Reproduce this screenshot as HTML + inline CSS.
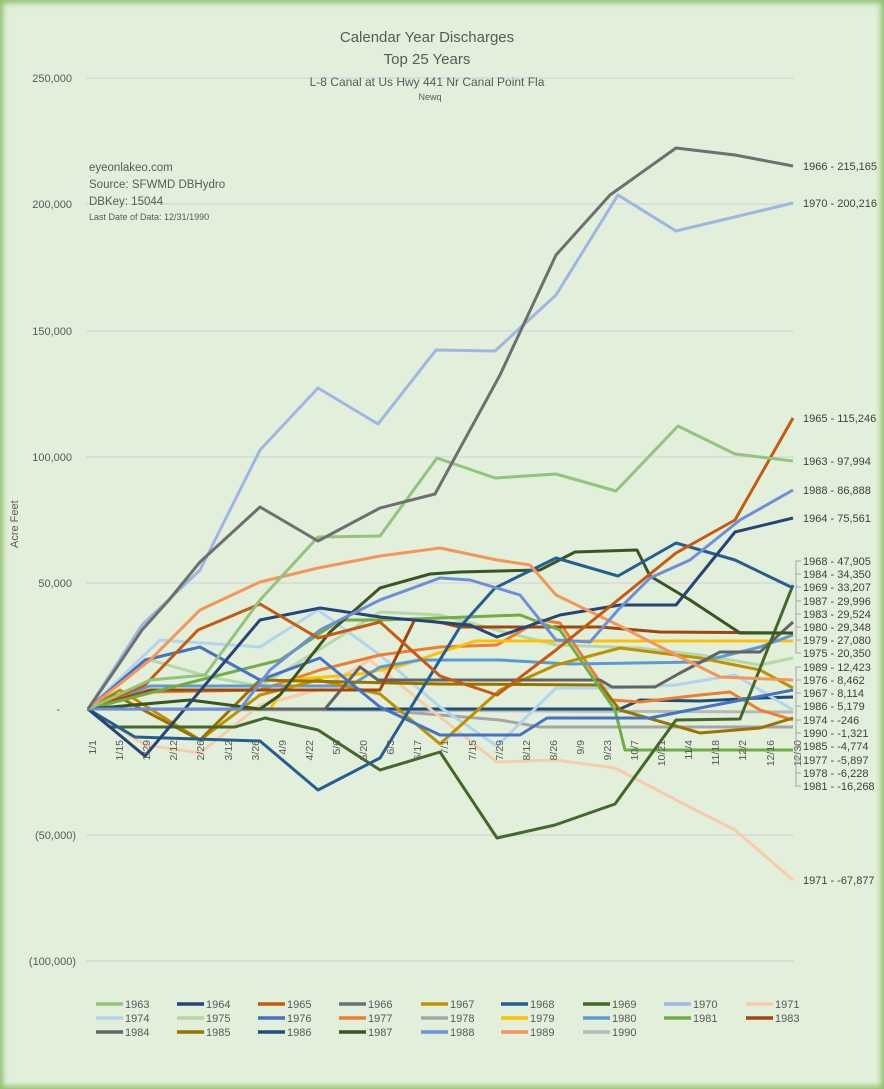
<!DOCTYPE html>
<html><head><meta charset="utf-8"><style>
html,body{margin:0;padding:0;}
body{width:884px;height:1089px;overflow:hidden;background:#e2efda;}
.wrap{position:absolute;left:0;top:0;width:884px;height:1089px;box-shadow:inset 0 0 6px 3px #8fbf6f;background:#e2efda;}
svg{position:absolute;left:0;top:0;font-family:"Liberation Sans",sans-serif;}
</style></head><body><div class="wrap">
<svg width="884" height="1089" viewBox="0 0 884 1089">
<g stroke="#d9d9d9" stroke-width="1.5">
<line x1="86" y1="78" x2="794" y2="78"/><line x1="86" y1="204" x2="794" y2="204"/><line x1="86" y1="331" x2="794" y2="331"/><line x1="86" y1="457" x2="794" y2="457"/><line x1="86" y1="583" x2="794" y2="583"/><line x1="86" y1="835" x2="794" y2="835"/><line x1="86" y1="961" x2="794" y2="961"/>
</g>
<g font-size="11" fill="#595959" text-anchor="end">
<text x="72" y="82">250,000</text><text x="72" y="208">200,000</text><text x="72" y="335">150,000</text><text x="72" y="461">100,000</text><text x="72" y="587">50,000</text><text x="60" y="713">-</text><text x="76" y="839">(50,000)</text><text x="76" y="965">(100,000)</text>
</g>
<text transform="translate(18,548) rotate(-90)" font-size="11" fill="#595959">Acre Feet</text>
<g text-anchor="middle" fill="#595959">
<text x="427" y="42" font-size="15">Calendar Year Discharges</text>
<text x="427" y="64" font-size="15">Top 25 Years</text>
<text x="427" y="86" font-size="12">L-8 Canal at Us Hwy 441 Nr Canal Point Fla</text>
<text x="430" y="100" font-size="9">Newq</text>
</g>
<g fill="#595959" font-size="11.5">
<text x="89" y="171">eyeonlakeo.com</text><text x="89" y="188">Source: SFWMD DBHydro</text><text x="89" y="205">DBKey: 15044</text><text x="89" y="220" font-size="9">Last Date of Data: 12/31/1990</text>
</g>
<g fill="none" stroke-width="3" stroke-linejoin="round">
<polyline stroke="#a5a5a5" points="88,709 380,710 440,715 500,720 540,727 793,727"/>
<polyline stroke="#b7b7b7" points="88,709 793,712"/>
<polyline stroke="#1f4e79" points="88,709 620,709 640,700 700,701 760,698 793,697"/>
<polyline stroke="#b6d7a8" points="88,709 150,660 210,677 260,686 380,612 440,615 497,630 556,645 640,648 700,655 760,665 793,658"/>
<polyline stroke="#b4d4ee" points="88,709 160,640 260,647 318,610 380,655 440,707 497,746 556,688 616,688 676,685 735,675 793,710"/>
<polyline stroke="#f8cbad" points="88,709 145,745 200,753 260,705 318,690 370,660 440,717 497,762 556,760 615,768 676,800 735,830 793,880"/>
<polyline stroke="#ed7d31" points="88,709 150,692 260,690 320,670 380,655 440,647 497,645 540,620 560,623 612,700 640,702 700,695 730,692 760,710 793,720"/>
<polyline stroke="#ffc000" points="88,709 270,709 290,680 360,674 400,666 475,641 793,641"/>
<polyline stroke="#5b9bd5" points="88,709 150,686 350,686 380,667 420,660 500,660 570,664 700,662 760,647 793,635"/>
<polyline stroke="#bf9000" points="88,709 120,690 200,740 260,695 318,680 380,694 440,744 500,690 556,665 620,648 700,658 760,670 793,688"/>
<polyline stroke="#997300" points="88,709 115,695 200,740 260,680 440,684 600,685 620,710 690,730 700,733 760,728 793,718"/>
<polyline stroke="#636363" points="88,709 325,709 360,667 378,680 600,680 612,687 655,687 680,673 720,652 760,652 793,622"/>
<polyline stroke="#9e480e" points="88,709 150,690 380,690 415,619 443,623 460,627 600,627 660,632 793,633"/>
<polyline stroke="#70ad47" points="88,709 200,680 280,660 340,620 380,620 440,618 520,615 560,630 615,710 625,750 793,750"/>
<polyline stroke="#4472c4" points="88,709 145,660 200,647 260,680 320,658 380,707 440,735 520,735 547,718 650,718 700,708 793,690"/>
<polyline stroke="#43682b" points="88,709 110,727 235,727 265,718 318,730 380,770 440,752 497,838 555,825 615,804 676,720 740,719 793,585"/>
<polyline stroke="#375623" points="88,709 190,700 260,709 280,695 330,632 380,588 430,574 460,572 540,570 575,552 637,550 650,576 690,600 740,633 793,633"/>
<polyline stroke="#255e91" points="88,709 135,737 260,741 318,790 380,758 460,627 495,588 556,558 618,576 676,543 735,560 793,588"/>
<polyline stroke="#264478" points="88,709 145,756 260,620 320,608 380,617 470,625 497,637 560,615 620,605 676,605 735,532 793,518"/>
<polyline stroke="#f4955a" points="88,709 150,660 200,610 260,582 318,568 380,556 440,548 497,560 530,565 556,595 618,625 676,655 720,677 793,680"/>
<polyline stroke="#6d8fd9" points="88,709 240,709 270,670 320,630 380,600 440,578 470,580 520,595 556,640 590,642 618,610 650,578 690,560 740,520 793,490"/>
<polyline stroke="#c55a11" points="88,709 145,685 198,630 260,604 318,638 380,622 440,676 497,695 556,650 618,600 676,553 735,520 793,418"/>
<polyline stroke="#93c47d" points="88,709 150,680 205,675 260,600 318,537 380,536 437,458 495,478 556,474 616,491 678,426 735,454 793,461"/>
<polyline stroke="#9eb6e4" points="88,709 142,625 200,570 260,450 318,388 378,424 436,350 495,351 556,295 618,195 676,231 793,203"/>
<polyline stroke="#6f6f6f" points="88,709 115,670 142,630 169,600 200,562 260,507 318,541 380,508 435,494 500,375 556,255 610,195 676,148 735,155 793,166"/>
</g>
<g font-size="10.5" fill="#595959">
<text transform="translate(96,740) rotate(-90)" text-anchor="end">1/1</text>
<text transform="translate(123,740) rotate(-90)" text-anchor="end">1/15</text>
<text transform="translate(150,740) rotate(-90)" text-anchor="end">1/29</text>
<text transform="translate(177,740) rotate(-90)" text-anchor="end">2/12</text>
<text transform="translate(204,740) rotate(-90)" text-anchor="end">2/26</text>
<text transform="translate(232,740) rotate(-90)" text-anchor="end">3/12</text>
<text transform="translate(259,740) rotate(-90)" text-anchor="end">3/26</text>
<text transform="translate(286,740) rotate(-90)" text-anchor="end">4/9</text>
<text transform="translate(313,740) rotate(-90)" text-anchor="end">4/22</text>
<text transform="translate(340,740) rotate(-90)" text-anchor="end">5/6</text>
<text transform="translate(367,740) rotate(-90)" text-anchor="end">5/20</text>
<text transform="translate(394,740) rotate(-90)" text-anchor="end">6/3</text>
<text transform="translate(421,740) rotate(-90)" text-anchor="end">6/17</text>
<text transform="translate(448,740) rotate(-90)" text-anchor="end">7/1</text>
<text transform="translate(476,740) rotate(-90)" text-anchor="end">7/15</text>
<text transform="translate(503,740) rotate(-90)" text-anchor="end">7/29</text>
<text transform="translate(530,740) rotate(-90)" text-anchor="end">8/12</text>
<text transform="translate(557,740) rotate(-90)" text-anchor="end">8/26</text>
<text transform="translate(584,740) rotate(-90)" text-anchor="end">9/9</text>
<text transform="translate(611,740) rotate(-90)" text-anchor="end">9/23</text>
<text transform="translate(638,740) rotate(-90)" text-anchor="end">10/7</text>
<text transform="translate(665,740) rotate(-90)" text-anchor="end">10/21</text>
<text transform="translate(692,740) rotate(-90)" text-anchor="end">11/4</text>
<text transform="translate(719,740) rotate(-90)" text-anchor="end">11/18</text>
<text transform="translate(746,740) rotate(-90)" text-anchor="end">12/2</text>
<text transform="translate(774,740) rotate(-90)" text-anchor="end">12/16</text>
<text transform="translate(801,740) rotate(-90)" text-anchor="end">12/30</text>
</g>
<g stroke="#a5a5a5" stroke-width="1" fill="none">
<polyline points="801,561 796,561 796,653 801,653"/>
<polyline points="801,667 796,667 796,786 801,786"/>
<line x1="796" y1="574" x2="801" y2="574"/><line x1="796" y1="587" x2="801" y2="587"/><line x1="796" y1="601" x2="801" y2="601"/><line x1="796" y1="614" x2="801" y2="614"/><line x1="796" y1="627" x2="801" y2="627"/><line x1="796" y1="640" x2="801" y2="640"/>
<line x1="796" y1="680" x2="801" y2="680"/><line x1="796" y1="693" x2="801" y2="693"/><line x1="796" y1="706" x2="801" y2="706"/><line x1="796" y1="720" x2="801" y2="720"/><line x1="796" y1="733" x2="801" y2="733"/><line x1="796" y1="746" x2="801" y2="746"/><line x1="796" y1="760" x2="801" y2="760"/><line x1="796" y1="773" x2="801" y2="773"/>
</g>
<g font-size="11" fill="#404040">
<text x="803" y="170">1966 - 215,165</text><text x="803" y="207">1970 - 200,216</text><text x="803" y="422">1965 - 115,246</text><text x="803" y="465">1963 - 97,994</text><text x="803" y="494">1988 - 86,888</text><text x="803" y="522">1964 - 75,561</text><text x="803" y="884">1971 - -67,877</text>
<text x="803" y="565">1968 - 47,905</text><text x="803" y="578">1984 - 34,350</text><text x="803" y="591">1969 - 33,207</text><text x="803" y="605">1987 - 29,996</text><text x="803" y="618">1983 - 29,524</text><text x="803" y="631">1980 - 29,348</text><text x="803" y="644">1979 - 27,080</text><text x="803" y="657">1975 - 20,350</text><text x="803" y="671">1989 - 12,423</text><text x="803" y="684">1976 - 8,462</text><text x="803" y="697">1967 - 8,114</text><text x="803" y="710">1986 - 5,179</text><text x="803" y="724">1974 - -246</text><text x="803" y="737">1990 - -1,321</text><text x="803" y="750">1985 - -4,774</text><text x="803" y="764">1977 - -5,897</text><text x="803" y="777">1978 - -6,228</text><text x="803" y="790">1981 - -16,268</text>
</g>
<g stroke-width="3.5">
<line x1="96" y1="1004" x2="123" y2="1004" stroke="#93c47d"/><line x1="177" y1="1004" x2="204" y2="1004" stroke="#264478"/><line x1="258" y1="1004" x2="285" y2="1004" stroke="#c55a11"/><line x1="339" y1="1004" x2="366" y2="1004" stroke="#6f6f6f"/><line x1="421" y1="1004" x2="448" y2="1004" stroke="#bf9000"/><line x1="501" y1="1004" x2="528" y2="1004" stroke="#255e91"/><line x1="583" y1="1004" x2="610" y2="1004" stroke="#43682b"/><line x1="664" y1="1004" x2="691" y2="1004" stroke="#9eb6e4"/><line x1="746" y1="1004" x2="773" y2="1004" stroke="#f8cbad"/>
<line x1="96" y1="1018" x2="123" y2="1018" stroke="#b4d4ee"/><line x1="177" y1="1018" x2="204" y2="1018" stroke="#b6d7a8"/><line x1="258" y1="1018" x2="285" y2="1018" stroke="#4472c4"/><line x1="339" y1="1018" x2="366" y2="1018" stroke="#ed7d31"/><line x1="421" y1="1018" x2="448" y2="1018" stroke="#a5a5a5"/><line x1="501" y1="1018" x2="528" y2="1018" stroke="#ffc000"/><line x1="583" y1="1018" x2="610" y2="1018" stroke="#5b9bd5"/><line x1="664" y1="1018" x2="691" y2="1018" stroke="#70ad47"/><line x1="746" y1="1018" x2="773" y2="1018" stroke="#9e480e"/>
<line x1="96" y1="1032" x2="123" y2="1032" stroke="#636363"/><line x1="177" y1="1032" x2="204" y2="1032" stroke="#997300"/><line x1="258" y1="1032" x2="285" y2="1032" stroke="#1f4e79"/><line x1="339" y1="1032" x2="366" y2="1032" stroke="#375623"/><line x1="421" y1="1032" x2="448" y2="1032" stroke="#6d8fd9"/><line x1="501" y1="1032" x2="528" y2="1032" stroke="#f4955a"/><line x1="583" y1="1032" x2="610" y2="1032" stroke="#b7b7b7"/>
</g>
<g font-size="11" fill="#595959">
<text x="125" y="1008">1963</text><text x="206" y="1008">1964</text><text x="287" y="1008">1965</text><text x="368" y="1008">1966</text><text x="450" y="1008">1967</text><text x="530" y="1008">1968</text><text x="612" y="1008">1969</text><text x="693" y="1008">1970</text><text x="775" y="1008">1971</text>
<text x="125" y="1022">1974</text><text x="206" y="1022">1975</text><text x="287" y="1022">1976</text><text x="368" y="1022">1977</text><text x="450" y="1022">1978</text><text x="530" y="1022">1979</text><text x="612" y="1022">1980</text><text x="693" y="1022">1981</text><text x="775" y="1022">1983</text>
<text x="125" y="1036">1984</text><text x="206" y="1036">1985</text><text x="287" y="1036">1986</text><text x="368" y="1036">1987</text><text x="450" y="1036">1988</text><text x="530" y="1036">1989</text><text x="612" y="1036">1990</text>
</g>
</svg></div></body></html>
